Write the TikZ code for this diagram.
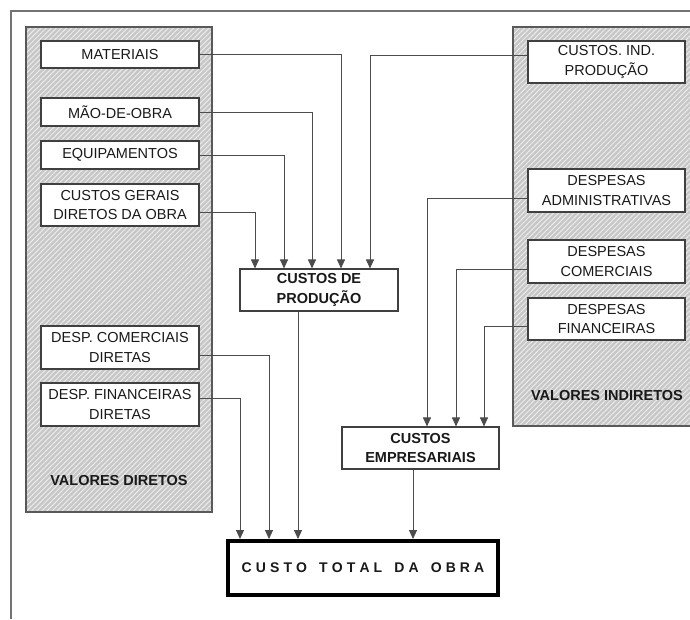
\documentclass[tikz,border=0pt]{standalone}
\usepackage{fontspec}
\setmainfont{Liberation Sans}
\usetikzlibrary{arrows.meta,patterns.meta}
\newcommand\lsp{\kern4.1pt}

\begin{document}
\begin{tikzpicture}[x=1pt,y=-1pt,
  lbl/.style={font=\fontsize{14.5}{19.5}\selectfont, text=black!90, align=center},
  boldlbl/.style={lbl, font=\fontsize{14.5}{19.5}\selectfont\bfseries},
  box/.style={lbl, draw=black!75, line width=1.1pt, fill=white, inner sep=0pt,
    minimum width=158pt},
  sumbox/.style={box, boldlbl},
  total/.style={draw=black, line width=4pt, fill=white, inner sep=0pt,
    minimum width=270pt, minimum height=54pt,
    font=\fontsize{14}{16}\selectfont\bfseries, text=black!90},
  panel/.style={draw=black!65, line width=1.2pt, preaction={fill=black!22},
    pattern={Lines[angle=45, distance=3.6pt, line width=1pt]}, pattern color=white!92!black},
  frame/.style={draw=black!55, line width=1.3pt},
  arr/.style={draw=black!70, line width=0.9pt, -{Triangle[length=9pt,width=8pt]}}
]
\useasboundingbox (0,0) rectangle (690,619);

% outer frame (top and left edges)
\draw[frame] (11,619) -- (11,11) -- (690,11);

% shaded panels
\draw[panel] (26,27) rectangle (212,512);
\draw[panel] (513,27) rectangle (692,426);

% direct values
\node[box, minimum height=27pt] (mat) at (120,54.5) {MATERIAIS};
\node[box, minimum height=28pt] (mao) at (120,112) {MÃO-DE-OBRA};
\node[box, minimum height=28pt] (eq)  at (120,155) {EQUIPAMENTOS};
\node[box, minimum height=42pt] (cg)  at (120,205) {CUSTOS GERAIS\\DIRETOS DA OBRA};
\node[box, minimum height=43pt] (dcd) at (120,347.5) {DESP. COMERCIAIS\\DIRETAS};
\node[box, minimum height=43pt] (dfd) at (120,404.5) {DESP. FINANCEIRAS\\DIRETAS};
\node[boldlbl] (vd) at (119,480) {VALORES DIRETOS};

% indirect values
\node[box, minimum width=157pt, minimum height=42pt] (cip)  at (606.5,62) {CUSTOS. IND.\\PRODUÇÃO};
\node[box, minimum width=157pt, minimum height=43pt] (dadm) at (606.5,190.5) {DESPESAS\\ADMINISTRATIVAS};
\node[box, minimum width=157pt, minimum height=43pt] (dcom) at (606.5,261.5) {DESPESAS\\COMERCIAIS};
\node[box, minimum width=157pt, minimum height=42pt] (dfin) at (606.5,319) {DESPESAS\\FINANCEIRAS};
\node[boldlbl] (vi) at (607,395) {VALORES INDIRETOS};

% aggregates
\node[sumbox, minimum height=42pt] (cp) at (319,290) {CUSTOS DE\\PRODUÇÃO};
\node[sumbox, minimum width=157pt, minimum height=42pt] (ce) at (420.5,448) {CUSTOS\\EMPRESARIAIS};
\node[total] (ct) at (363,568) {C\lsp U\lsp S\lsp T\lsp O\lsp{} \lsp T\lsp O\lsp T\lsp A\lsp L\lsp{} \lsp D\lsp A\lsp{} \lsp O\lsp B\lsp R\lsp A};

% into production costs
\draw[arr] (mat.east) -| ([xshift=22pt]cp.north);
\draw[arr] (mao.east) -| ([xshift=-7pt]cp.north);
\draw[arr] (eq.east) -| ([xshift=-35pt]cp.north);
\draw[arr] ([yshift=-7pt]cg.east) -| ([xshift=-64pt]cp.north);
\draw[arr] ([yshift=7pt]cip.west) -| ([xshift=51pt]cp.north);

% into company costs
\draw[arr] ([yshift=-7.5pt]dadm.west) -| ([xshift=6.5pt]ce.north);
\draw[arr] ([yshift=-7.5pt]dcom.west) -| ([xshift=35.5pt]ce.north);
\draw[arr] ([yshift=-7pt]dfin.west) -| ([xshift=63.5pt]ce.north);

% into total cost
\draw[arr] ([yshift=6.5pt]dfd.east) -| ([xshift=-123pt]ct.north);
\draw[arr] ([yshift=-7.5pt]dcd.east) -| ([xshift=-94pt]ct.north);
\draw[arr] ([xshift=-21pt]cp.south) -- ([xshift=-65pt]ct.north);
\draw[arr] ([xshift=-7.5pt]ce.south) -- ([xshift=50pt]ct.north);
\end{tikzpicture}
\end{document}
